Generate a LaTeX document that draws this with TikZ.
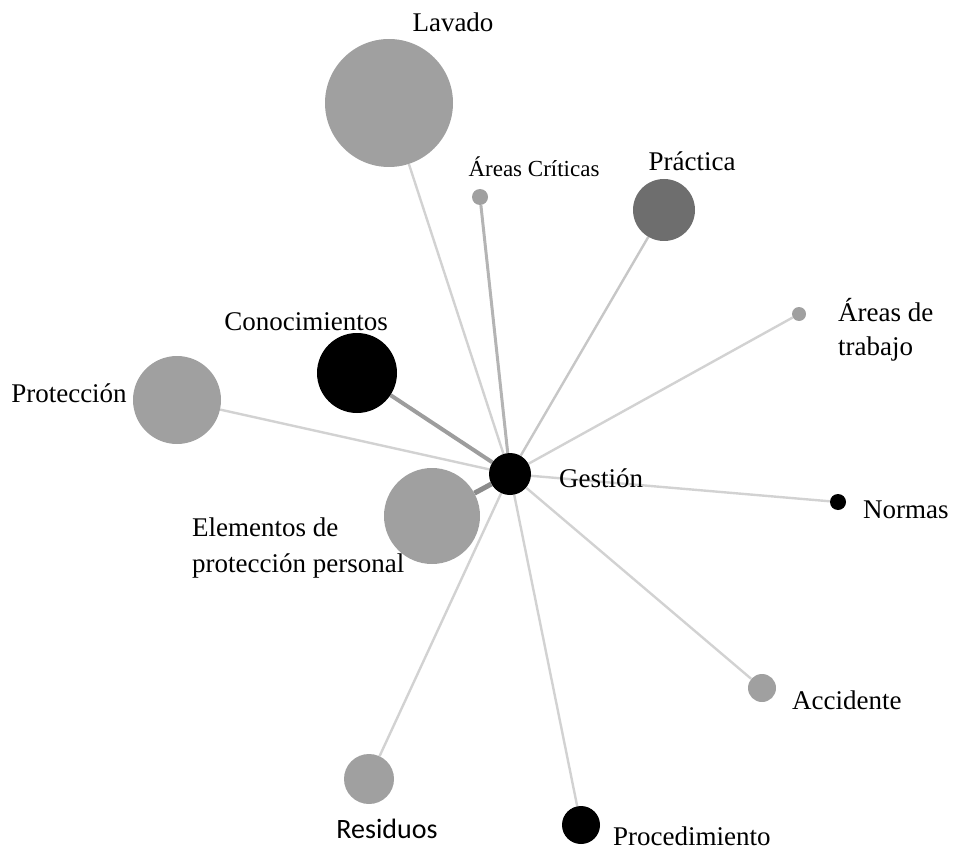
\documentclass[tikz,border=0pt]{standalone}
\usepackage{fontspec}
\setmainfont{Liberation Serif}
\newfontfamily\calibrilike{Carlito}
\usetikzlibrary{backgrounds}
\definecolor{nodegray}{HTML}{A0A0A0}
\definecolor{darknode}{HTML}{6E6E6E}
\definecolor{edgelight}{HTML}{D2D2D2}
\definecolor{edgemid}{HTML}{B4B4B4}
\definecolor{edgedark}{HTML}{8C8C8C}
\begin{document}
\begin{tikzpicture}[x=1pt,y=-1pt,
  vertex/.style={circle,inner sep=0pt,minimum size=#1},
  graynode/.style={vertex=#1,fill=nodegray},
  blacknode/.style={vertex=#1,fill=black},
  lbl/.style={inner sep=0pt,font=\fontsize{27}{32}\selectfont},
  link/.style={draw=edgelight,line width=2.4pt},
]
\useasboundingbox (0,0) rectangle (953,853);
% nodes
\node[blacknode=42] (ges) at (510,474) {};
\node[graynode=128] (lav) at (389,103) {};
\node[graynode=16] (acr) at (480,197) {};
\node[vertex=62,fill=darknode] (pra) at (664,210) {};
\node[graynode=14] (atr) at (799,314) {};
\node[blacknode=80] (con) at (357,373) {};
\node[graynode=88] (pro) at (177,400) {};
\node[graynode=96] (epp) at (432,516) {};
\node[blacknode=16] (nor) at (838,502) {};
\node[graynode=28] (acc) at (762,688) {};
\node[graynode=50] (res) at (369,779) {};
\node[blacknode=38] (prc) at (581,825) {};
% links
\begin{scope}[on background layer]
\draw[link] (ges) -- (lav);
\draw[link,draw=edgemid,line width=3pt] (ges) -- (acr);
\draw[link,draw=edgelight!95!black] (ges) -- (pra);
\draw[link] (ges) -- (atr);
\draw[link,draw=edgedark!85!white,line width=4pt] (ges) -- (con);
\draw[link] (ges) -- (pro);
\draw[link,draw=edgedark,line width=5pt] (ges) -- (epp);
\draw[link] (ges) -- (nor);
\draw[link] (ges) -- (acc);
\draw[link] (ges) -- (res);
\draw[link] (ges) -- (prc);
\end{scope}
% labels
\node[lbl] (tlav) at (453,22) {Lavado};
\node[lbl,font=\fontsize{23}{27}\selectfont] (tacr) at (534,167) {Áreas Críticas};
\node[lbl] (tpra) at (692,161) {Práctica};
\node[lbl,anchor=west,align=left,font=\fontsize{27}{34}\selectfont] (tatr) at (838,330) {Áreas de\\trabajo};
\node[lbl] (tcon) at (306,322) {Conocimientos};
\node[lbl] (tpro) at (69,393) {Protección};
\node[lbl,anchor=west] (tges) at (559,478) {Gestión};
\node[lbl,anchor=west,align=left,font=\fontsize{27}{36}\selectfont] (tepp) at (192,548) {Elementos de\\protección personal};
\node[lbl,anchor=west] (tnor) at (863,510) {Normas};
\node[lbl,anchor=west] (tacc) at (792,700) {Accidente};
\node[lbl,font=\fontsize{28}{32}\calibrilike\selectfont] (tres) at (387,829) {Residuos};
\node[lbl,anchor=west] (tprc) at (613,836) {Procedimiento};
\end{tikzpicture}
\end{document}
